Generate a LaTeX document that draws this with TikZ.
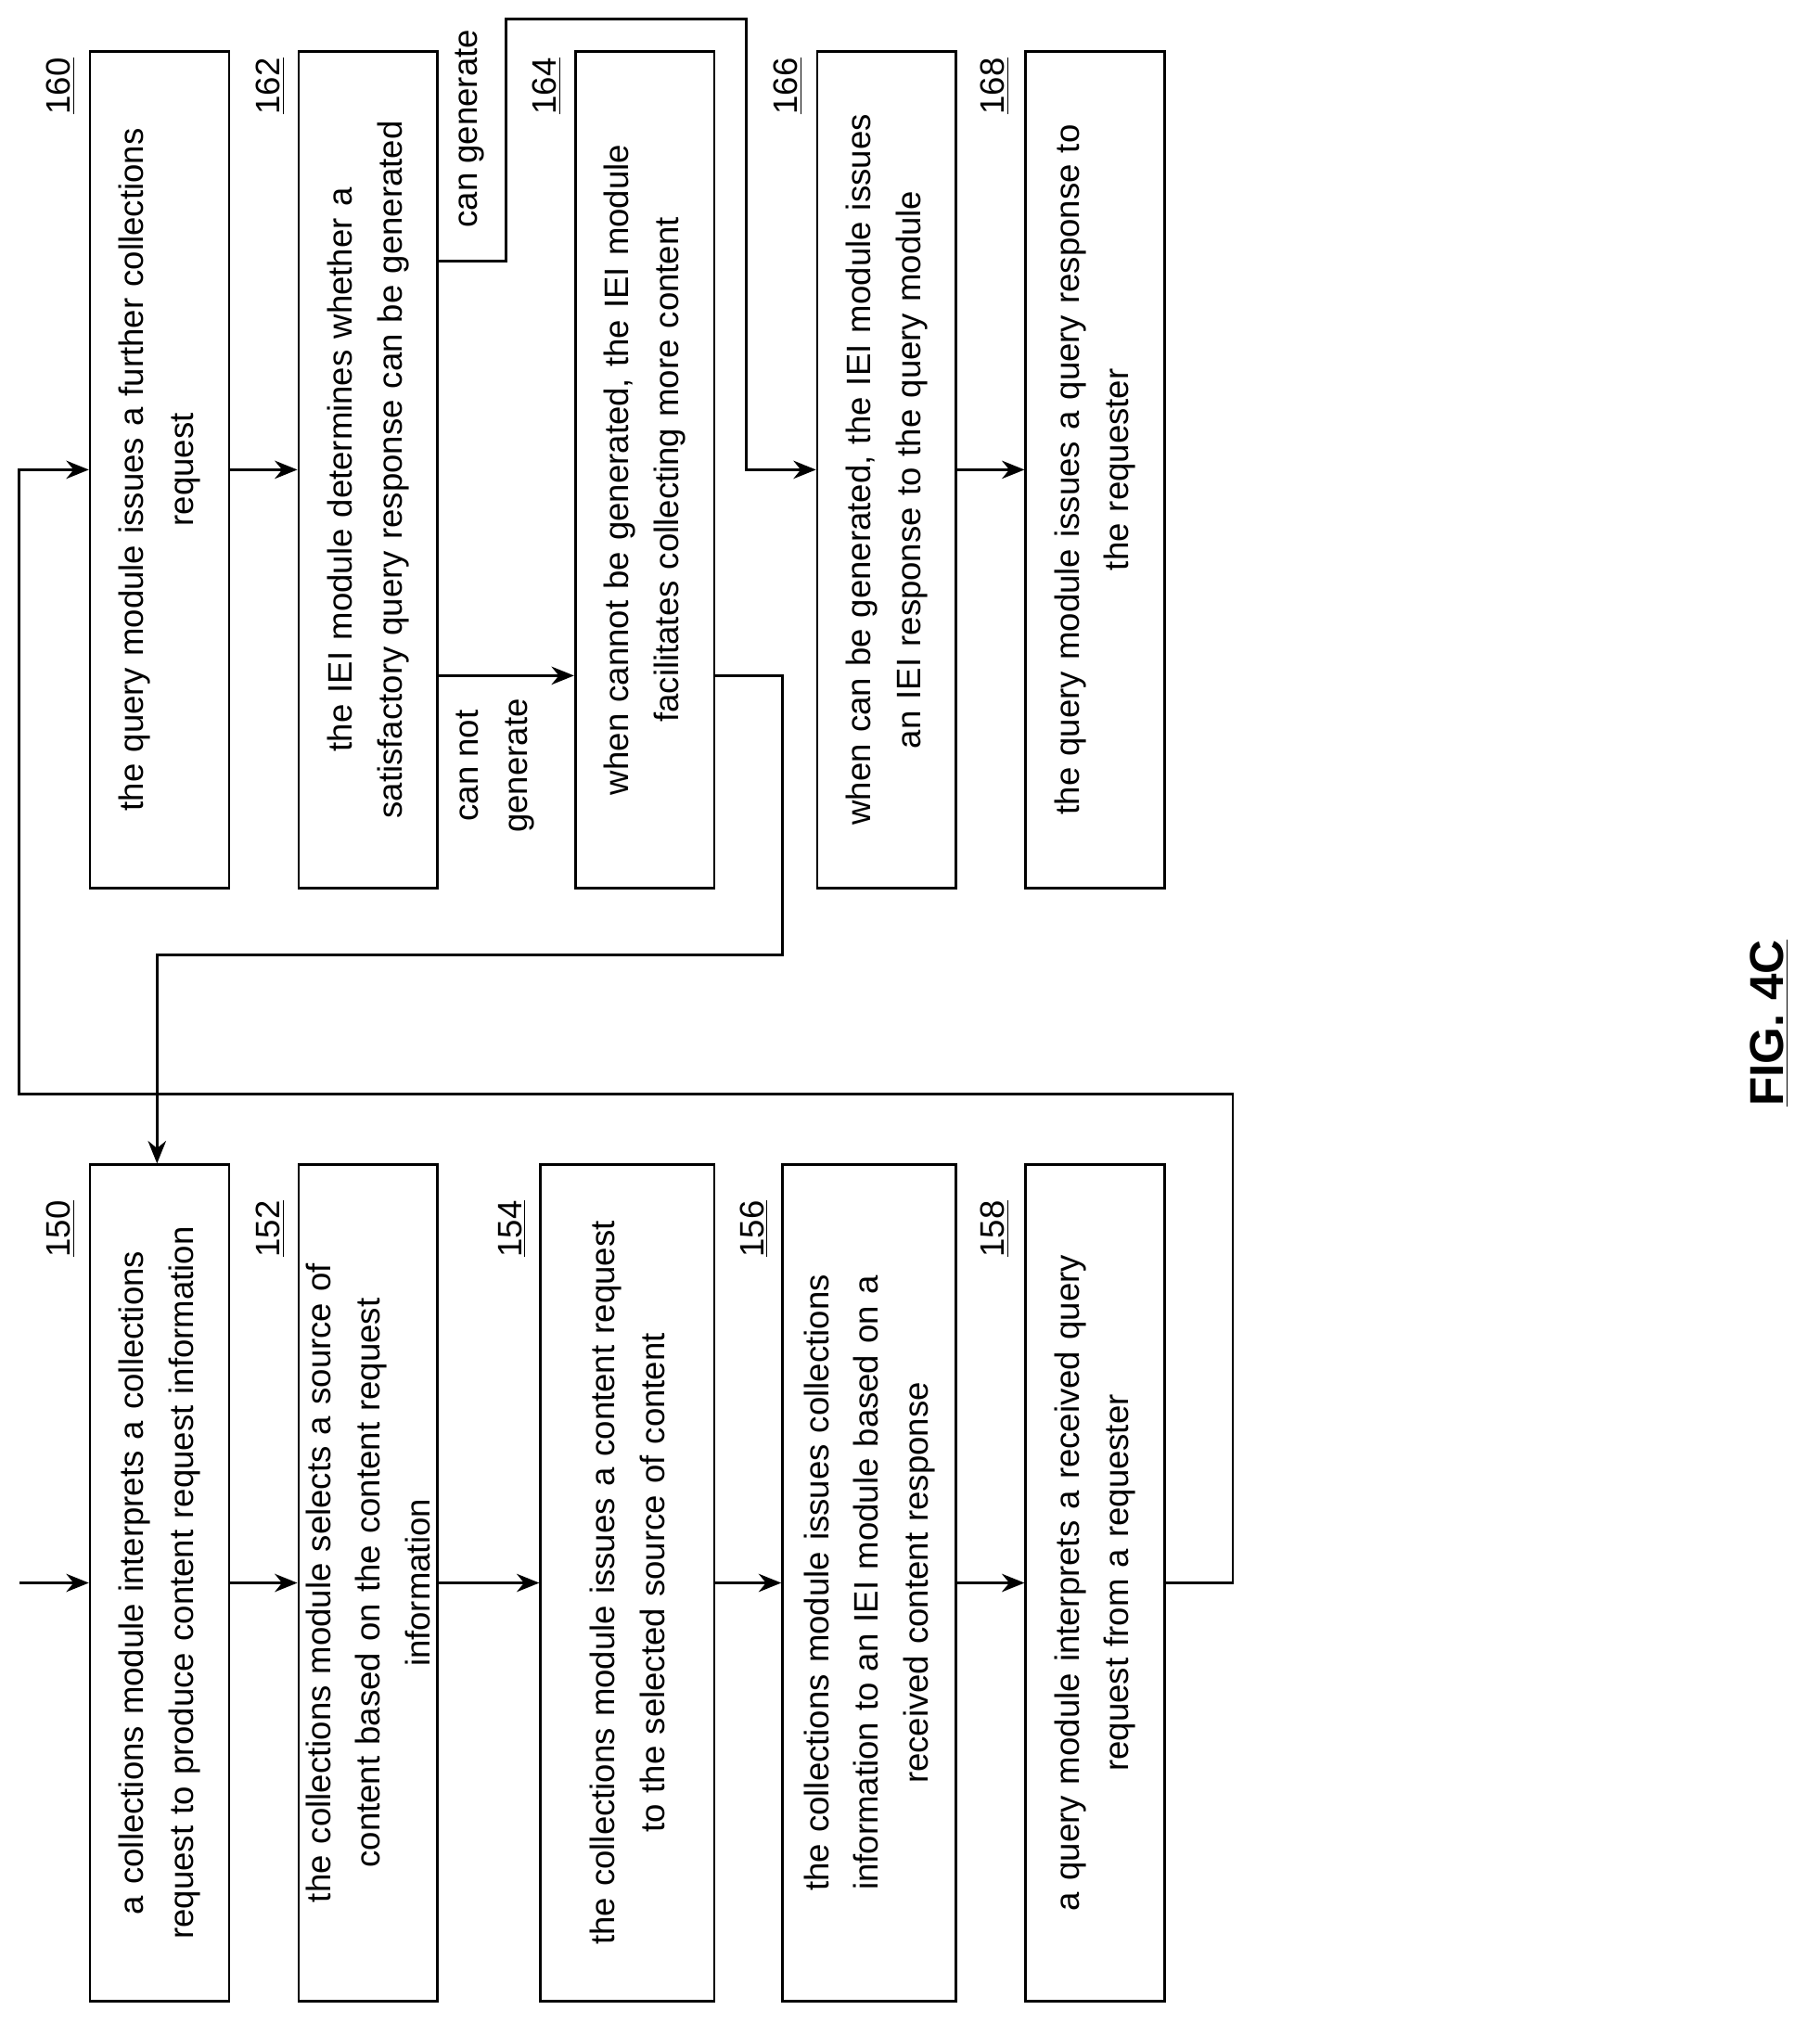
\documentclass[tikz,border=0pt]{standalone}
\usepackage{fontspec}
\setmainfont{Liberation Sans}
\usetikzlibrary{arrows.meta}
\tikzset{
  stepbox/.style={draw, line width=1.1pt, rotate=90, minimum width=13cm,
    minimum height=#1, inner sep=2pt, text width=12.4cm, align=center,
    font=\fontsize{15}{22}\selectfont},
  stepbox/.default=2.16cm,
  ref/.style={rotate=90, font=\fontsize{15}{18}\selectfont},
  flow/.style={line width=1.1pt, -{Stealth[length=10pt,width=8pt]}},
  wire/.style={line width=1.1pt}
}
\begin{document}
\begin{tikzpicture}[x=0.02cm,y=-0.02cm]
\useasboundingbox (0,0) rectangle (1414,1572);

% lower column
\node[stepbox] (b150) at (124,1230) {a collections module interprets a collections\\request to produce content request information};
\node[stepbox] (b152) at (286,1230) {the collections module selects a source of\\content based on the content request\\information};
\node[stepbox=2.7cm] (b154) at (487.5,1230) {the collections module issues a content request\\to the selected source of content};
\node[stepbox=2.7cm] (b156) at (675.5,1230) {the collections module issues collections\\information to an IEI module based on a\\received content response};
\node[stepbox] (b158) at (851,1230) {a query module interprets a received query\\request from a requester};

% upper column
\node[stepbox] (b160) at (124,365) {the query module issues a further collections\\request};
\node[stepbox] (b162) at (286,365) {the IEI module determines whether a\\satisfactory query response can be generated};
\node[stepbox] (b164) at (501,365) {when cannot be generated, the IEI module\\facilitates collecting more content};
\node[stepbox] (b166) at (689,365) {when can be generated, the IEI module issues\\an IEI response to the query module};
\node[stepbox] (b168) at (851,365) {the query module issues a query response to\\the requester};

% reference numbers
\node[ref] (r150) at (47,955) {\underline{150}};
\node[ref] (r152) at (210,955) {\underline{152}};
\node[ref] (r154) at (398,955) {\underline{154}};
\node[ref] (r156) at (586,955) {\underline{156}};
\node[ref] (r158) at (773,955) {\underline{158}};
\node[ref] (r160) at (47,67) {\underline{160}};
\node[ref] (r162) at (210,67) {\underline{162}};
\node[ref] (r164) at (425,67) {\underline{164}};
\node[ref] (r166) at (612,67) {\underline{166}};
\node[ref] (r168) at (773,67) {\underline{168}};

% connectors
\coordinate (in) at (15,1230);
\draw[flow] (in) -- (b150.north);
\draw[flow] (b150.south) -- (b152.north);
\draw[flow] (b152.south) -- (b154.north);
\draw[flow] (b154.south) -- (b156.north);
\draw[flow] (b156.south) -- (b158.north);
\draw[flow] (b158.south) -- (958,1230) -- (958,850) -- (15,850) -- (15,365) -- (b160.north);
\draw[flow] (b160.south) -- (b162.north);
\draw[flow] (b162.south |- 0,525) -- (b164.north |- 0,525);
\draw[flow] (b162.south |- 0,203) -- (393,203) -- (393,15) -- (580,15) -- (580,365) -- (b166.north);
\draw[flow] (b164.south |- 0,525) -- (608,525) -- (608,742) -- (122,742) -- (b150.east -| 122,0);
\draw[flow] (b166.south) -- (b168.north);

\node[ref] (lcan) at (365,100) {can generate};
\node[ref, align=center, font=\fontsize{15}{22}\selectfont] (lnot) at (385,595) {can not\\generate};

\node[rotate=90, font=\fontsize{21}{24}\selectfont\bfseries] (fig) at (1375,795) {\underline{FIG. 4C}};
\end{tikzpicture}
\end{document}
